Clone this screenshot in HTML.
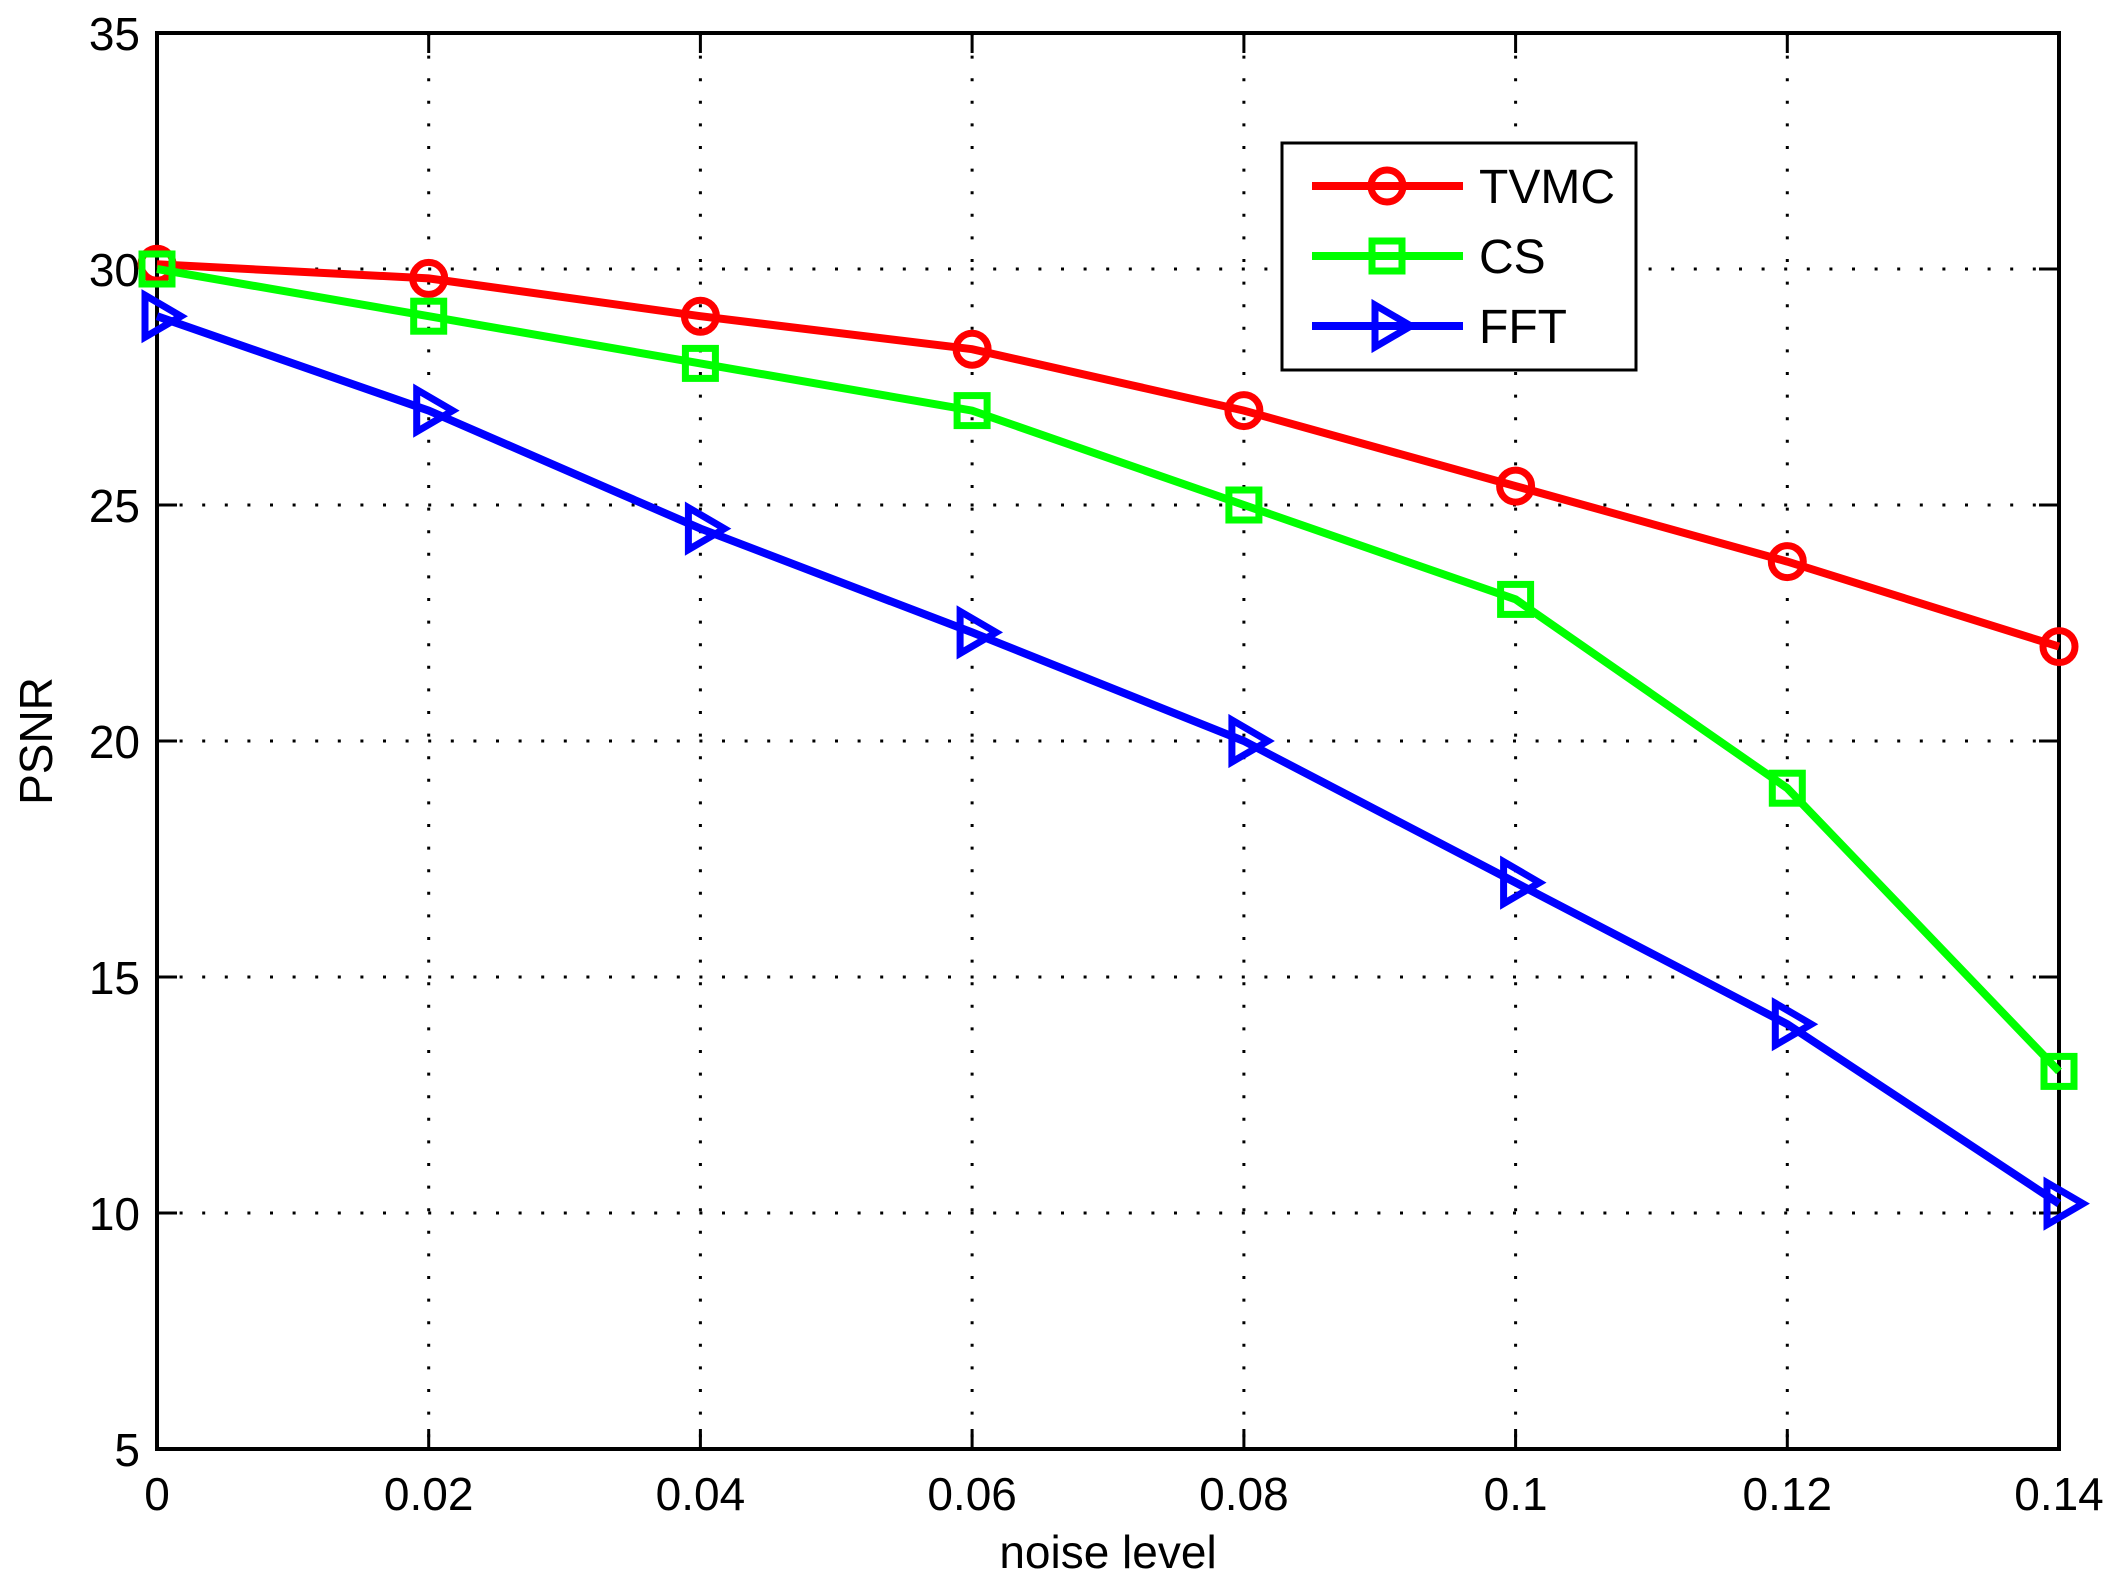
<!DOCTYPE html>
<html><head><meta charset="utf-8"><style>html,body{margin:0;padding:0;background:#fff}svg{display:block}</style></head>
<body>
<svg width="2124" height="1586" xmlns="http://www.w3.org/2000/svg" font-family="Liberation Sans, Arial, sans-serif">
<rect width="2124" height="1586" fill="#fff"/>
<g stroke="#000" stroke-width="3" stroke-dasharray="3,19.6">
<line x1="428.7" y1="33" x2="428.7" y2="1449"/>
<line x1="700.4" y1="33" x2="700.4" y2="1449"/>
<line x1="972.1" y1="33" x2="972.1" y2="1449"/>
<line x1="1243.9" y1="33" x2="1243.9" y2="1449"/>
<line x1="1515.6" y1="33" x2="1515.6" y2="1449"/>
<line x1="1787.3" y1="33" x2="1787.3" y2="1449"/>
<line x1="157" y1="269" x2="2059" y2="269"/>
<line x1="157" y1="505" x2="2059" y2="505"/>
<line x1="157" y1="741" x2="2059" y2="741"/>
<line x1="157" y1="977" x2="2059" y2="977"/>
<line x1="157" y1="1213" x2="2059" y2="1213"/>
</g>
<g stroke="#000" stroke-width="3">
<path d="M428.7 1449v-20M700.4 1449v-20M972.1 1449v-20M1243.9 1449v-20M1515.6 1449v-20M1787.3 1449v-20M428.7 33v20M700.4 33v20M972.1 33v20M1243.9 33v20M1515.6 33v20M1787.3 33v20"/>
<path d="M157 269h20M157 505h20M157 741h20M157 977h20M157 1213h20M2059 269h-20M2059 505h-20M2059 741h-20M2059 977h-20M2059 1213h-20"/>
<rect x="157" y="33" width="1902" height="1416" fill="none" stroke-width="4"/>
</g>
<g font-size="46" fill="#000" text-anchor="end">
<text x="140" y="50">35</text><text x="140" y="286">30</text><text x="140" y="522">25</text><text x="140" y="758">20</text><text x="140" y="994">15</text><text x="140" y="1230">10</text><text x="140" y="1466">5</text>
</g>
<g font-size="46" fill="#000" text-anchor="middle">
<text x="157" y="1510">0</text><text x="428.7" y="1510">0.02</text><text x="700.4" y="1510">0.04</text><text x="972.1" y="1510">0.06</text><text x="1243.9" y="1510">0.08</text><text x="1515.6" y="1510">0.1</text><text x="1787.3" y="1510">0.12</text><text x="2059" y="1510">0.14</text>
<text x="1108" y="1568">noise level</text>
<text transform="translate(52,741) rotate(-90)">PSNR</text>
</g>
<g stroke="#f00" stroke-width="8" fill="none">
<polyline points="157,264.3 428.7,278.4 700.4,316.2 972.1,349.2 1243.9,410.6 1515.6,486.1 1787.3,561.6 2059,646.6"/>
<g stroke-width="7">
<circle cx="157" cy="264.3" r="16"/><circle cx="428.7" cy="278.4" r="16"/><circle cx="700.4" cy="316.2" r="16"/><circle cx="972.1" cy="349.2" r="16"/><circle cx="1243.9" cy="410.6" r="16"/><circle cx="1515.6" cy="486.1" r="16"/><circle cx="1787.3" cy="561.6" r="16"/><circle cx="2059" cy="646.6" r="16"/>
</g></g>
<g stroke="#0f0" stroke-width="8" fill="none">
<polyline points="157,269 428.7,316.2 700.4,363.4 972.1,410.6 1243.9,505 1515.6,599.4 1787.3,788.2 2059,1071.4"/>
<g stroke-width="7">
<rect x="142" y="254" width="30" height="30"/><rect x="413.7" y="301.2" width="30" height="30"/><rect x="685.4" y="348.4" width="30" height="30"/><rect x="957.1" y="395.6" width="30" height="30"/><rect x="1228.9" y="490" width="30" height="30"/><rect x="1500.6" y="584.4" width="30" height="30"/><rect x="1772.3" y="773.2" width="30" height="30"/><rect x="2044" y="1056.4" width="30" height="30"/>
</g></g>
<g stroke="#00f" stroke-width="8" fill="none">
<polyline points="157,316.2 428.7,410.6 700.4,528.6 972.1,632.4 1243.9,741 1515.6,882.6 1787.3,1024.2 2059,1203.6"/>
<g stroke-width="7" stroke-linejoin="miter">
<path d="M-12,-21L24,0L-12,21Z" transform="translate(157,316.2)"/>
<path d="M-12,-21L24,0L-12,21Z" transform="translate(428.7,410.6)"/>
<path d="M-12,-21L24,0L-12,21Z" transform="translate(700.4,528.6)"/>
<path d="M-12,-21L24,0L-12,21Z" transform="translate(972.1,632.4)"/>
<path d="M-12,-21L24,0L-12,21Z" transform="translate(1243.9,741)"/>
<path d="M-12,-21L24,0L-12,21Z" transform="translate(1515.6,882.6)"/>
<path d="M-12,-21L24,0L-12,21Z" transform="translate(1787.3,1024.2)"/>
<path d="M-12,-21L24,0L-12,21Z" transform="translate(2059,1203.6)"/>
</g></g>
<rect x="1282" y="143" width="354" height="227" fill="#fff" stroke="#000" stroke-width="3"/>
<line x1="1312" y1="186" x2="1463" y2="186" stroke="#f00" stroke-width="8"/>
<circle cx="1387" cy="186" r="16" stroke="#f00" stroke-width="7" fill="none"/>
<line x1="1312" y1="256" x2="1463" y2="256" stroke="#0f0" stroke-width="8"/>
<rect x="1372" y="241" width="30" height="30" stroke="#0f0" stroke-width="7" fill="none"/>
<line x1="1312" y1="326" x2="1463" y2="326" stroke="#00f" stroke-width="8"/>
<path d="M-12,-21L24,0L-12,21Z" transform="translate(1387,326)" stroke="#00f" stroke-width="7" fill="none"/>
<g font-size="48" fill="#000">
<text x="1479" y="203">TVMC</text><text x="1479" y="273">CS</text><text x="1479" y="343">FFT</text>
</g>
</svg>
</body></html>
